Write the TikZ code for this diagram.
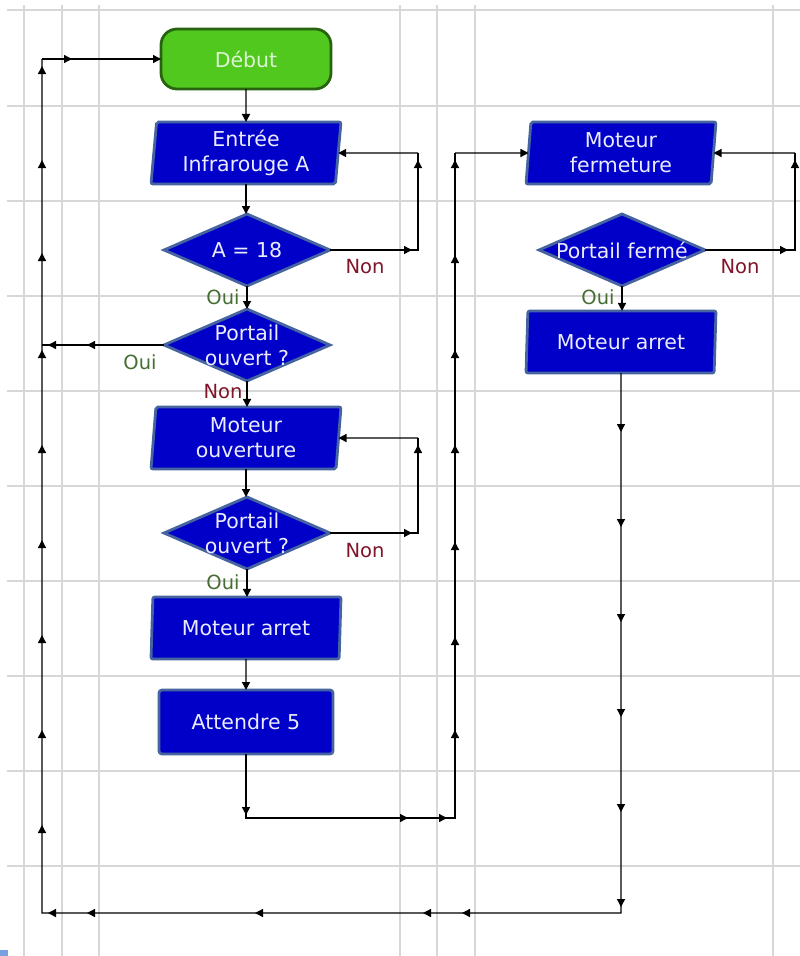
\documentclass[tikz,border=0pt]{standalone}
\usepackage{fontspec}
\setmainfont{DejaVu Sans}
\usetikzlibrary{shapes.geometric,arrows.meta}
\definecolor{boxblue}{RGB}{0,0,200}
\definecolor{boxedge}{RGB}{70,100,160}
\definecolor{startgreen}{RGB}{80,200,30}
\definecolor{startedge}{RGB}{40,100,15}
\definecolor{gridgray}{RGB}{215,215,215}
\definecolor{nonred}{RGB}{128,20,40}
\definecolor{ouigreen}{RGB}{70,110,50}
\definecolor{boxtext}{RGB}{235,235,255}
\definecolor{starttext}{RGB}{220,245,210}
\definecolor{markblue}{RGB}{120,160,225}
\newcommand\tipU[2]{\draw[arr] ({#1},{#2+7}) -- ({#1},{#2});}
\newcommand\tipD[2]{\draw[arr] ({#1},{#2-7}) -- ({#1},{#2});}
\newcommand\tipL[2]{\draw[arr] ({#1+7},{#2}) -- ({#1},{#2});}
\newcommand\tipR[2]{\draw[arr] ({#1-7},{#2}) -- ({#1},{#2});}
\begin{document}
\begin{tikzpicture}[x=1pt,y=-1pt,
  gridline/.style={draw=gridgray, line width=1.2pt},
  flow/.style={draw=black, line width=1.4pt},
  arr/.style={flow, -{Triangle[length=8pt,width=8pt]}},
  txt/.style={text=boxtext, font=\fontsize{20.5}{25}\selectfont, align=center},
  iobox/.style={trapezium, trapezium left angle=83, trapezium right angle=97,
    trapezium stretches body, fill=boxblue, draw=boxedge, line width=2.8pt,
    rounded corners=2pt, minimum width=190pt, minimum height=62pt,
    inner sep=0pt, outer sep=0pt, txt},
  procbox/.style={rectangle, fill=boxblue, draw=boxedge, line width=2.8pt,
    rounded corners=3pt, minimum width=174pt, minimum height=64pt,
    inner sep=0pt, outer sep=0pt, txt},
  startbox/.style={rectangle, fill=startgreen, draw=startedge, line width=2.8pt,
    rounded corners=16pt, minimum width=170pt, minimum height=60pt,
    inner sep=0pt, outer sep=0pt, text=starttext, font=\fontsize{20.5}{25}\selectfont},
  dia/.style={diamond, fill=boxblue, draw=boxedge, line width=2.8pt,
    minimum width=166pt, minimum height=72pt, inner sep=0pt, outer sep=0pt},
  non/.style={text=nonred, font=\fontsize{19.5}{23}\selectfont},
  oui/.style={text=ouigreen, font=\fontsize{19.5}{23}\selectfont}
]
\useasboundingbox (0,0) rectangle (800,956);
% grid
\foreach \y in {10,106,201,296,391,486,581,676,771,866}
  {\draw[gridline] (7,\y) -- (800,\y);}
\foreach \x in {24,62,99,400,437,475,773}
  {\draw[gridline] (\x,5) -- (\x,956);}
\fill[markblue] (0,950) rectangle (8,956);

% nodes, left column
\node[startbox] (start) at (246,59) {Début};
\node[iobox] (in1) at (246,153) {Entrée\\Infrarouge A};
\node[dia] (d1) at (247,250) {};
\node[txt] (d1t) at (247,250) {A = 18};
\node[dia] (d2) at (247,345) {};
\node[txt] (d2t) at (247,345) {Portail\\ouvert ?};
\node[iobox] (mo) at (246,438) {Moteur\\ouverture};
\node[dia] (d3) at (247,533) {};
\node[txt] (d3t) at (247,533) {Portail\\ouvert ?};
\node[iobox] (ma) at (246,628) {Moteur arret};
\node[procbox] (att) at (246,722) {Attendre 5};
% right column
\node[iobox] (mf) at (621,153) {Moteur\\fermeture};
\node[dia] (df) at (622,250) {};
\node[txt] (dft) at (622,250) {Portail fermé};
\node[iobox] (mar) at (621,342) {Moteur arret};

% coordinates
\coordinate (LT) at (42,59);
\coordinate (LB) at (42,913);
\coordinate (LJ) at (42,345);
\coordinate (RB) at (621,913);
\coordinate (m1) at (246,818);
\coordinate (m2) at (455,818);
\coordinate (m3) at (455,153);
\coordinate (k1) at (418,250);
\coordinate (k2) at (418,153);
\coordinate (k3) at (418,533);
\coordinate (k4) at (418,438);
\coordinate (k5) at (795,250);
\coordinate (k6) at (795,153);

% main column connectors
\draw[arr] (start.south) -- (in1.north);
\draw[arr] (in1.south) -- (in1.south |- d1.north);
\draw[arr] (d1.south) -- (d2.north);
\draw[arr] (d2.south) -- (d2.south |- mo.north);
\draw[arr] (mo.south) -- (mo.south |- d3.north);
\draw[arr] (d3.south) -- (d3.south |- ma.north);
\draw[arr] (ma.south) -- (att.north);
\draw[arr] (df.south) -- (df.south |- mar.north);
% loops
\draw[flow] (d1.east) -- (k1) -- (k2);
\draw[arr] (k2) -- (in1.east);
\draw[flow] (d3.east) -- (k3) -- (k4);
\draw[arr] (k4) -- (mo.east);
\draw[flow] (df.east) -- (k5) -- (k6);
\draw[arr] (k6) -- (mf.east);
% Portail ouvert -> left return
\draw[flow] (d2.west) -- (LJ);
% Attendre -> Moteur fermeture
\draw[flow] (att.south) -- (m1) -- (m2) -- (m3);
\draw[arr] (m3) -- (mf.west);
% big return
\draw[flow] (mar.south) -- (RB) -- (LB) -- (LT);
\draw[arr] (LT) -- (start.west);

% mid-line arrow tips
\foreach \y in {825,730,635,540,445,350,253,160,66} {\tipU{42}{\y}}
\tipR{72}{59}
\tipL{87}{345} \tipL{48}{345}
\foreach \x in {462,423,255,87,48} {\tipL{\x}{913}}
\foreach \y in {432,527,622,717,812,907} {\tipD{621}{\y}}
\tipD{246}{815}
\tipR{408}{818} \tipR{447}{818}
\foreach \y in {730,637,542,445,350,255,160} {\tipU{455}{\y}}
\tipR{412}{250} \tipU{418}{160}
\tipR{412}{533} \tipU{418}{445}
\tipR{788}{250} \tipU{795}{160}

% labels
\node[non] (n1) at (365,267) {Non};
\node[oui] (o1) at (223,297) {Oui};
\node[oui] (o2) at (140,362) {Oui};
\node[non] (n2) at (223,392) {Non};
\node[non] (n3) at (365,551) {Non};
\node[oui] (o3) at (223,582) {Oui};
\node[non] (n4) at (740,267) {Non};
\node[oui] (o4) at (598,297) {Oui};
\end{tikzpicture}
\end{document}
